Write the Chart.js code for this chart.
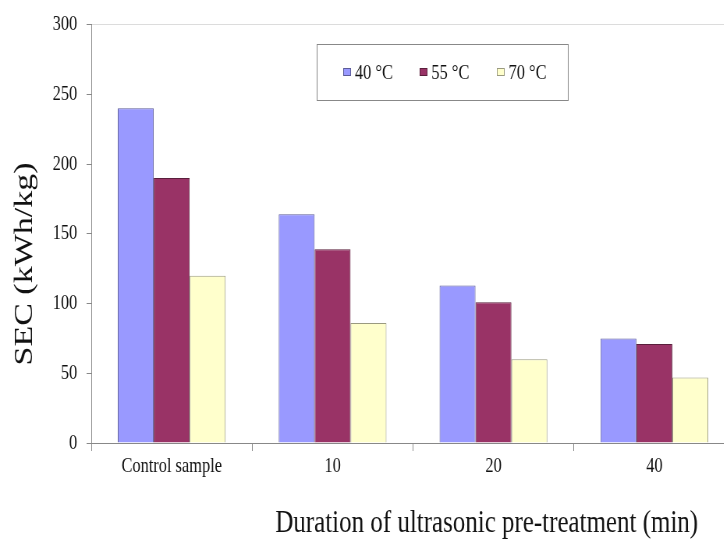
<!DOCTYPE html>
<html>
<head>
<meta charset="utf-8">
<script src="https://cdn.jsdelivr.net/npm/chart.js@4.4.1/dist/chart.umd.min.js"></script>
<style>
  html, body { margin: 0; padding: 0; background: #fff; overflow: hidden; }
  /* the source picture is squeezed sideways, so the whole chart is drawn wide and narrowed */
  #wrap { width: 950px; height: 544px; transform: scaleX(0.78); transform-origin: 0 0; }
</style>
</head>
<body>
<div id="wrap"><canvas id="secChart" width="950" height="544"></canvas></div>
<script>
// data
const categories = ['Control sample', '10', '20', '40'];
const sec40 = [240, 164, 113, 75];
const sec55 = [190, 139, 101, 71];
const sec70 = [120, 86, 60, 47];
const seriesNames = ['40 °C', '55 °C', '70 °C'];
const yTicks = [0, 50, 100, 150, 200, 250, 300];

const xTitle = 'Duration of ultrasonic pre-treatment (min)';
const yTitle = 'SEC (kWh/kg)';
const serif = '"Liberation Serif", "Times New Roman", serif';

// axis titles and boxed legend sit off-centre in the original, so draw them here
const extras = {
  id: 'extras',
  afterDraw(chart, args, opts) {
    const ctx = chart.ctx;
    ctx.save();
    ctx.fillStyle = '#111';
    ctx.textBaseline = 'middle';

    ctx.font = '32px ' + serif;
    ctx.textAlign = 'center';
    ctx.fillText(xTitle, opts.xTitleX, opts.xTitleY);

    ctx.save();
    ctx.translate(opts.yTitleX, opts.yTitleY);
    ctx.rotate(-Math.PI / 2);
    ctx.font = '34px ' + serif;
    ctx.fillText(yTitle, 0, 0);
    ctx.restore();

    // legend box
    const lg = opts.legend;
    ctx.strokeStyle = '#888';
    ctx.lineWidth = 1;
    ctx.strokeRect(lg.x + 0.5, lg.y + 0.5, lg.w, lg.h);
    ctx.font = '21px ' + serif;
    ctx.textAlign = 'left';
    const cy = lg.y + lg.h / 2;
    chart.data.datasets.forEach((ds, i) => {
      const sx = lg.items[i];
      ctx.fillStyle = ds.backgroundColor;
      ctx.fillRect(sx, cy - 4, 10, 8);
      ctx.strokeStyle = ds.borderColor;
      ctx.strokeRect(sx + 0.5, cy - 3.5, 9, 7);
      ctx.fillStyle = '#111';
      ctx.fillText(ds.label, sx + 15, cy + 1);
    });
    ctx.restore();
  }
};

const ctx = document.getElementById('secChart').getContext('2d');
new Chart(ctx, {
  type: 'bar',
  data: {
    labels: categories,
    datasets: [
      { label: seriesNames[0], data: sec40, backgroundColor: '#9999ff', borderColor: '#5c5c99', borderWidth: 1 },
      { label: seriesNames[1], data: sec55, backgroundColor: '#993366', borderColor: '#5a1f3c', borderWidth: 1 },
      { label: seriesNames[2], data: sec70, backgroundColor: '#ffffcc', borderColor: '#9a9a80', borderWidth: 1 }
    ]
  },
  options: {
    responsive: false,
    animation: false,
    devicePixelRatio: 1,
    layout: { padding: { top: 22, right: 8, left: 0, bottom: 0 } },
    datasets: { bar: { categoryPercentage: 0.67, barPercentage: 1.0 } },
    plugins: {
      legend: { display: false },
      tooltip: { enabled: false },
      extras: {
        xTitleX: 624, xTitleY: 524,
        yTitleX: 32, yTitleY: 264,
        legend: { x: 406, y: 44, w: 322, h: 56, items: [440, 538, 637] }
      }
    },
    scales: {
      x: {
        afterFit: s => { s.height = 101; },
        grid: { drawOnChartArea: false, color: 'transparent', tickColor: '#888', tickLength: 8, offset: true },
        border: { color: '#888' },
        ticks: { color: '#111', font: { family: serif, size: 21 }, padding: 3, maxRotation: 0 }
      },
      y: {
        min: 0,
        max: 300,
        afterFit: s => { s.width = 117; },
        afterBuildTicks: s => { s.ticks = yTicks.map(v => ({ value: v })); },
        grid: {
          color: c => (c.tick && c.tick.value === 300 ? '#dcdcdc' : 'transparent'),
          tickColor: '#888',
          tickLength: 6
        },
        border: { color: '#888' },
        ticks: { color: '#111', font: { family: serif, size: 21 }, padding: 12 }
      }
    }
  },
  plugins: [extras]
});
</script>
</body>
</html>
